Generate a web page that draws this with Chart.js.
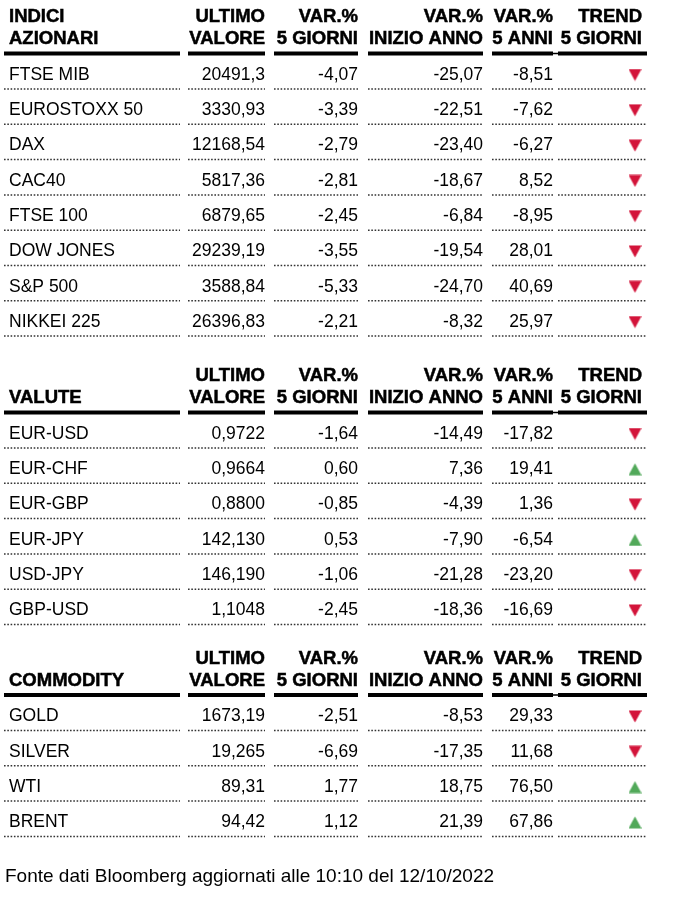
<!DOCTYPE html>
<html>
<head>
<meta charset="utf-8">
<script src="https://cdn.jsdelivr.net/npm/chart.js@4"></script>
<style>
  html, body { margin: 0; padding: 0; background: #fff; }
  canvas { display: block; }
</style>
</head>
<body>
<canvas id="market-table" width="689" height="904"></canvas>
<script>
// Table data
const sectionTitles = [['INDICI', 'AZIONARI'], ['', 'VALUTE'], ['', 'COMMODITY']];
const columnHeaders = [['ULTIMO', 'VALORE'], ['VAR.%', '5 GIORNI'], ['VAR.%', 'INIZIO ANNO'], ['VAR.%', '5 ANNI'], ['TREND', '5 GIORNI']];

const indexNames = ['FTSE MIB', 'EUROSTOXX 50', 'DAX', 'CAC40', 'FTSE 100', 'DOW JONES', 'S&P 500', 'NIKKEI 225'];
const indexLast = ['20491,3', '3330,93', '12168,54', '5817,36', '6879,65', '29239,19', '3588,84', '26396,83'];
const index5d = [-4.07, -3.39, -2.79, -2.81, -2.45, -3.55, -5.33, -2.21];
const indexYtd = [-25.07, -22.51, -23.40, -18.67, -6.84, -19.54, -24.70, -8.32];
const index5y = [-8.51, -7.62, -6.27, 8.52, -8.95, 28.01, 40.69, 25.97];

const fxNames = ['EUR-USD', 'EUR-CHF', 'EUR-GBP', 'EUR-JPY', 'USD-JPY', 'GBP-USD'];
const fxLast = ['0,9722', '0,9664', '0,8800', '142,130', '146,190', '1,1048'];
const fx5d = [-1.64, 0.60, -0.85, 0.53, -1.06, -2.45];
const fxYtd = [-14.49, 7.36, -4.39, -7.90, -21.28, -18.36];
const fx5y = [-17.82, 19.41, 1.36, -6.54, -23.20, -16.69];

const comNames = ['GOLD', 'SILVER', 'WTI', 'BRENT'];
const comLast = ['1673,19', '19,265', '89,31', '94,42'];
const com5d = [-2.51, -6.69, 1.77, 1.12];
const comYtd = [-8.53, -17.35, 18.75, 21.39];
const com5y = [29.33, 11.68, 76.50, 67.86];

const footerText = 'Fonte dati Bloomberg aggiornati alle 10:10 del 12/10/2022';

const sections = [
  { names: indexNames, last: indexLast, d5: index5d, ytd: indexYtd, y5: index5y },
  { names: fxNames, last: fxLast, d5: fx5d, ytd: fxYtd, y5: fx5y },
  { names: comNames, last: comLast, d5: com5d, ytd: comYtd, y5: com5y }
];

// Layout (page pixels, mapped through the chart scales)
const W = 689, H = 904;
const NAME_X = 9;
const COL_RIGHT = [265, 358, 483, 553, 642];
const SEGMENTS = [[4, 180], [188, 265], [274, 358], [368, 483], [492, 553], [558, 647]];
const TREND_X = 635;
const RULE_Y = [53.5, 412.5, 695];
const ROW_H = 35.3;
const FIRST_ROW = 21.5;
const FOOTER_Y = 876.5;

const RED = '#d3143a';
const GREEN = '#52a95a';

const fmt = v => v.toFixed(2).replace('.', ',');
const rowY = (s, i) => RULE_Y[s] + FIRST_ROW + i * ROW_H;

// triangle markers as small canvases
function makeTriangle(color, up) {
  const c = document.createElement('canvas');
  c.width = 13; c.height = 13;
  const g = c.getContext('2d');
  g.fillStyle = color;
  g.beginPath();
  if (up) {
    g.moveTo(6.5, 0.5); g.lineTo(13, 12.5); g.lineTo(0, 12.5);
  } else {
    g.moveTo(0, 0.5); g.lineTo(13, 0.5); g.lineTo(6.5, 12.5);
  }
  g.closePath();
  g.fill();
  return c;
}
const triUp = makeTriangle(GREEN, true);
const triDown = makeTriangle(RED, false);

const trendPoints = [];
const trendStyles = [];
sections.forEach((sec, s) => {
  sec.d5.forEach((v, i) => {
    trendPoints.push({ x: TREND_X, y: rowY(s, i) });
    trendStyles.push(v >= 0 ? triUp : triDown);
  });
});

// heavier header text: fill plus thin stroke
function boldText(ctx, text, x, y) {
  ctx.fillText(text, x, y);
  ctx.strokeText(text, x, y);
}

const tablePlugin = {
  id: 'tablePlugin',
  beforeDatasetsDraw(chart) {
    const ctx = chart.ctx;
    const sx = chart.scales.x, sy = chart.scales.y;
    const px = v => sx.getPixelForValue(v);
    const py = v => sy.getPixelForValue(v);
    ctx.save();

    sections.forEach((sec, s) => {
      // header rule
      ctx.setLineDash([]);
      ctx.strokeStyle = '#000';
      ctx.lineWidth = 4;
      SEGMENTS.forEach(([a, b]) => {
        ctx.beginPath();
        ctx.moveTo(px(a), py(RULE_Y[s]));
        ctx.lineTo(px(b), py(RULE_Y[s]));
        ctx.stroke();
      });
      ctx.lineWidth = 1.5;
      ctx.beginPath();
      ctx.moveTo(px(SEGMENTS[4][1]), py(RULE_Y[s]));
      ctx.lineTo(px(SEGMENTS[5][0]), py(RULE_Y[s]));
      ctx.stroke();

      // header text
      ctx.fillStyle = '#000';
      ctx.strokeStyle = '#000';
      ctx.lineWidth = 0.5;
      ctx.font = 'bold 18.5px "Liberation Sans", Arial, sans-serif';
      ctx.textBaseline = 'middle';
      const h1 = RULE_Y[s] - 36.5, h2 = RULE_Y[s] - 14.5;
      ctx.textAlign = 'left';
      boldText(ctx, sectionTitles[s][0], px(NAME_X), py(h1));
      boldText(ctx, sectionTitles[s][1], px(NAME_X), py(h2));
      ctx.textAlign = 'right';
      columnHeaders.forEach((hdr, c) => {
        boldText(ctx, hdr[0], px(COL_RIGHT[c]), py(h1));
        boldText(ctx, hdr[1], px(COL_RIGHT[c]), py(h2));
      });

      // rows
      ctx.font = '17.5px "Liberation Sans", Arial, sans-serif';
      sec.names.forEach((name, i) => {
        const y = rowY(s, i);
        ctx.fillStyle = '#000';
        ctx.textAlign = 'left';
        ctx.fillText(name, px(NAME_X), py(y));
        ctx.textAlign = 'right';
        ctx.fillText(sec.last[i], px(COL_RIGHT[0]), py(y));
        ctx.fillText(fmt(sec.d5[i]), px(COL_RIGHT[1]), py(y));
        ctx.fillText(fmt(sec.ytd[i]), px(COL_RIGHT[2]), py(y));
        ctx.fillText(fmt(sec.y5[i]), px(COL_RIGHT[3]), py(y));

        // dotted separator
        ctx.strokeStyle = '#333';
        ctx.lineWidth = 1.5;
        ctx.setLineDash([1.6, 1.7]);
        SEGMENTS.forEach(([a, b]) => {
          ctx.beginPath();
          ctx.moveTo(px(a), py(y + 14));
          ctx.lineTo(px(b), py(y + 14));
          ctx.stroke();
        });
        ctx.setLineDash([]);
      });
    });

    // footer
    ctx.setLineDash([]);
    ctx.fillStyle = '#000';
    ctx.font = '19px "Liberation Sans", Arial, sans-serif';
    ctx.textAlign = 'left';
    ctx.textBaseline = 'middle';
    ctx.fillText(footerText, px(5), py(FOOTER_Y));
    ctx.restore();
  }
};

new Chart(document.getElementById('market-table').getContext('2d'), {
  type: 'scatter',
  data: {
    datasets: [{
      label: 'Trend 5 giorni',
      data: trendPoints,
      pointStyle: trendStyles,
      pointRadius: 7,
      pointHoverRadius: 7
    }]
  },
  options: {
    responsive: false,
    animation: false,
    events: [],
    layout: { padding: 0, autoPadding: false },
    plugins: {
      legend: { display: false },
      tooltip: { enabled: false }
    },
    scales: {
      x: { type: 'linear', min: 0, max: W, display: false },
      y: { type: 'linear', min: 0, max: H, reverse: true, display: false }
    }
  },
  plugins: [tablePlugin]
});
</script>
</body>
</html>
